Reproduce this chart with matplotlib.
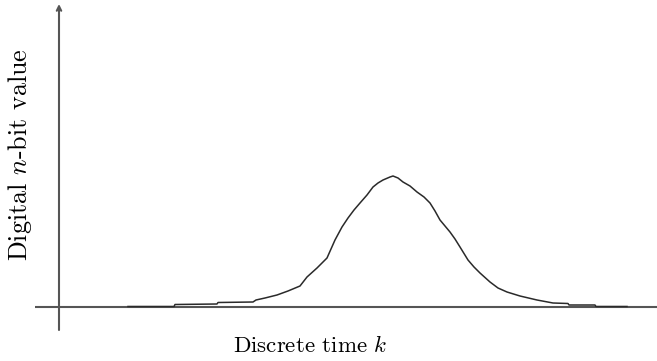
import matplotlib
matplotlib.use("Agg")
import matplotlib.pyplot as plt

plt.rcParams["mathtext.fontset"] = "cm"
plt.rcParams["font.family"] = ["cmr10", "DejaVu Serif"]
plt.rcParams["axes.unicode_minus"] = False

# Sampled digital signal: time index k and quantised value
k = [128, 174, 175, 217, 218, 253, 256, 265, 277, 288, 300, 307, 317, 327,
     335, 342, 348, 354, 360, 367, 373, 378, 383, 390, 393, 398, 403, 410,
     417, 424, 430, 435, 440, 445, 450, 455, 460, 468, 474, 480, 490, 498,
     507, 520, 537, 553, 568, 569, 595, 596, 627]
value = [0.5, 0.5, 2.5, 3, 4.5, 5, 7, 9, 12, 16, 21, 30, 39, 49,
         67, 80, 89, 97, 104, 112, 120, 124, 127, 130, 131, 129, 125, 121,
         115, 110, 104, 96, 87, 81, 75, 68, 60, 47, 40, 34, 25, 19,
         15, 11, 7, 4, 3.5, 2, 2, 0.5, 0.5]

x_label = "Discrete time $k$"
y_label = "Digital $n$-bit value"

fig = plt.figure(figsize=(6.57, 3.61), dpi=100)
ax = fig.add_axes([0, 0, 1, 1])
ax.set_xlim(0, 657)
ax.set_ylim(-54, 307)
ax.axis("off")

axis_color = "#555555"
# horizontal axis
ax.plot([35, 657], [0, 0], color=axis_color, lw=1.5, solid_capstyle="butt")
# vertical axis with arrow head
ax.annotate("", xy=(59, 303), xytext=(59, -23),
            arrowprops=dict(arrowstyle="->", color=axis_color, lw=1.5,
                            shrinkA=0, shrinkB=0, mutation_scale=8))

ax.plot(k, value, color="#2a2a2a", lw=1.1)

ax.text(310, -39, x_label, ha="center", va="center", fontsize=16.5)
ax.text(20, 152, y_label, ha="center", va="center", rotation=90, fontsize=18.8)

fig.savefig("out.png", dpi=100)
